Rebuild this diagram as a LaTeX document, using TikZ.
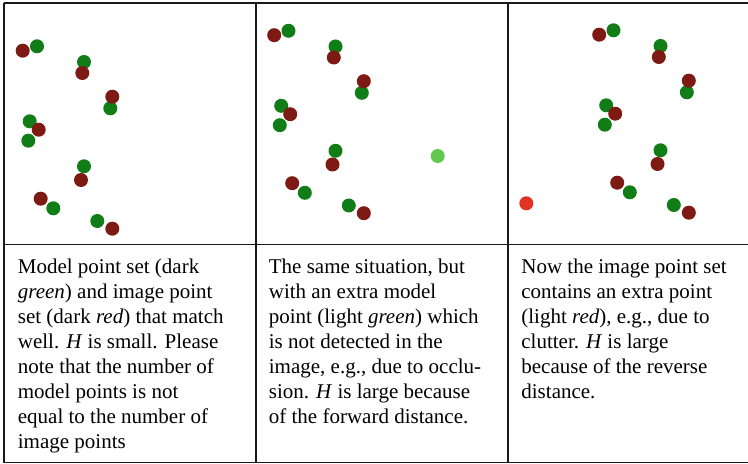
\documentclass[tikz,border=0pt]{standalone}
\usepackage{fontspec}
\setmainfont{Liberation Serif}
\definecolor{dkgreen}{RGB}{16,125,22}
\definecolor{dkred}{RGB}{125,26,20}
\definecolor{ltgreen}{RGB}{98,200,78}
\definecolor{ltred}{RGB}{226,50,36}

\begin{document}
\begin{tikzpicture}[x=0.5pt,y=-0.5pt,line join=round,
    modelpt/.style={fill=dkgreen},
    imgpt/.style={fill=dkred},
    rule/.style={line width=0.9pt,black!90},
    caption/.style={anchor=base west,align=left,inner sep=0pt,
      font=\fontsize{10.5}{12.5}\selectfont}]
  \useasboundingbox (0,0) rectangle (748,464);
  % table
  \draw [rule] (4,3) -- (748,3);
  \draw [rule] (4,244.5) -- (748,244.5);
  \draw [rule] (4,462.5) -- (748,462.5);
  \draw [rule] (4,3) -- (4,462.5);
  \draw [rule] (256,3) -- (256,462.5);
  \draw [rule] (508,3) -- (508,462.5);
  % the same two point sets in every panel
  \foreach \dx/\dy in {0/0, 251.5/-15.5, 576.5/-16}{
    \begin{scope}[shift={(\dx,\dy)}]
      \foreach \px/\py in {37/46.3, 84/62, 110.3/108.3, 29.7/121.3, 28.3/140.7,
                           84/166.3, 53.3/208.3, 97.3/221}
        \fill [modelpt] (\px,\py) circle (3.5pt);
      \foreach \px/\py in {22.7/50.7, 82.3/73, 112.3/96.7, 38.7/129.7, 81/180,
                           40.7/198.7, 112.3/228.7}
        \fill [imgpt] (\px,\py) circle (3.5pt);
    \end{scope}
  }
  %% extra points
  \fill [fill=ltgreen] (437.7,156) circle (3.5pt);
  \fill [fill=ltred] (526.3,203.3) circle (3.5pt);
  % captions (placed at the baseline of their last line)
  \node [caption] (capmatch) at (17.5,448.5) {Model point set (dark\\
    \textit{green}) and image point\\
    set (dark \textit{red}\/) that match\\
    well. \textit{H} is small. Please\\
    note that the number of\\
    model points is not\\
    equal to the number of\\
    image points};
  \node [caption] (capmodel) at (268.5,423.5) {The same situation, but\\
    with an extra model\\
    point (light \textit{green}) which\\
    is not detected in the\\
    image, e.g., due to occlu-\\
    sion. \textit{H} is large because\\
    of the forward distance.};
  \node [caption] (capimage) at (521,398.5) {Now the image point set\\
    contains an extra point\\
    (light \textit{red}\/), e.g., due to\\
    clutter. \textit{H} is large\\
    because of the reverse\\
    distance.};
\end{tikzpicture}
\end{document}
